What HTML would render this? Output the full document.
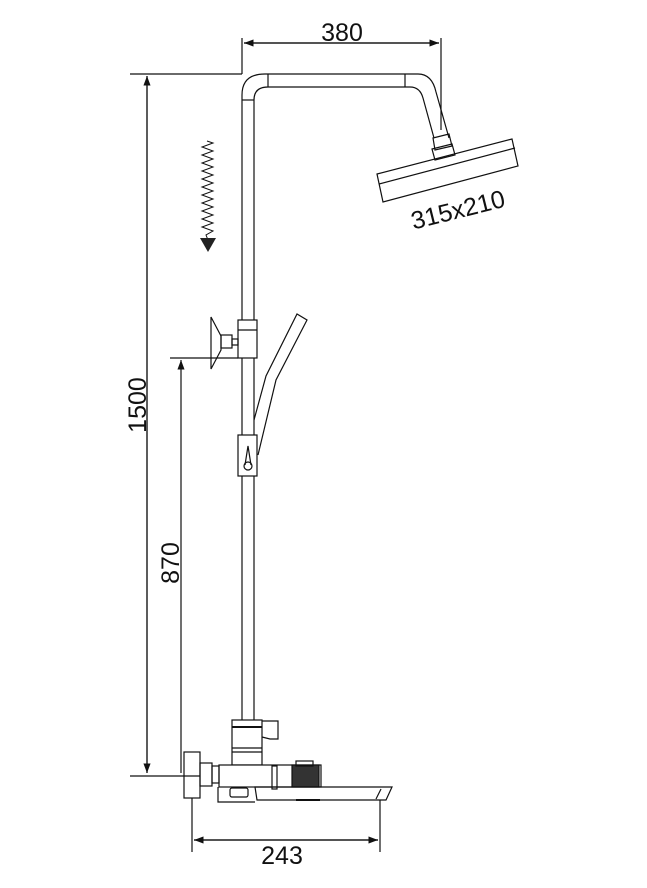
<!DOCTYPE html>
<html><head><style>body{margin:0;background:#fff}svg{display:block}text{font-family:"Liberation Sans",Arial,sans-serif;fill:#111}</style></head>
<body>
<svg width="647" height="888" viewBox="0 0 647 888" xmlns="http://www.w3.org/2000/svg">
<defs><marker id="a" markerWidth="8" markerHeight="6" refX="8" refY="3" orient="auto"><path d="M0,0L8,3L0,6z" fill="#111"/></marker></defs>
<g stroke="#111" stroke-width="1.2" fill="none">
<line x1="242" y1="38" x2="242" y2="74"/><line x1="441" y1="38" x2="441" y2="130"/>
<line x1="244" y1="43" x2="439" y2="43" marker-end="url(#a)"/><line x1="439" y1="43" x2="244" y2="43" marker-end="url(#a)"/>
<line x1="130" y1="74" x2="242" y2="74"/>
<line x1="147" y1="76" x2="147" y2="773" marker-end="url(#a)"/><line x1="147" y1="773" x2="147" y2="76" marker-end="url(#a)"/>
<line x1="130" y1="776" x2="200" y2="776"/>
<line x1="170" y1="358" x2="238" y2="358"/>
<line x1="181" y1="773" x2="181" y2="360" marker-end="url(#a)"/>
<line x1="192" y1="798" x2="192" y2="852"/><line x1="380" y1="800" x2="380" y2="852"/>
<line x1="194" y1="840" x2="378" y2="840" marker-end="url(#a)"/><line x1="378" y1="840" x2="194" y2="840" marker-end="url(#a)"/>
<path d="M242,720 L242,95 Q242,74 265,74 L418,74 Q432,74 436,92 L449,138"/>
<path d="M254,720 L254,100 Q254,87 268,87 L410,87 Q420,87 423,98 L434,138"/>
<line x1="242" y1="100" x2="254" y2="100"/><line x1="268" y1="74" x2="268" y2="87"/><line x1="405" y1="74" x2="405" y2="87"/>
<path d="M433,138 L449,134 L452,146 L435,150 Z"/>
<path d="M432,149 L452,144 L455,155 L435,160 Z"/>
<path d="M377,174 L512,139 L518,166 L383,202 Z"/>
<line x1="379" y1="184" x2="515" y2="148"/>
<polyline points="207,141 213,143 202,147 213,151 202,155 213,159 202,163 213,167 202,171 213,175 202,179 213,183 202,187 213,191 202,195 213,199 202,203 213,207 202,211 213,215 202,219 213,223 202,227 213,231 206,235 208,240" stroke-width="1"/>
<rect x="238" y="320" width="19" height="38" fill="#fff"/>
<line x1="238" y1="330" x2="257" y2="330"/>
<rect x="221" y="335" width="11" height="13"/><rect x="232" y="339" width="6" height="6"/>
<path d="M211,317 L221,336 L221,350 L211,369 Z"/>
<path d="M254,420 L266,376 L297,314 L307,320 L276,380 L258,455"/>
<rect x="238" y="435" width="19" height="41" fill="#fff"/>
<path d="M245,465 L248,446 L251,465"/><circle cx="248" cy="466" r="4"/>
<rect x="232" y="720" width="30" height="45" fill="#fff"/>
<line x1="232" y1="727" x2="262" y2="727" stroke-width="2"/><line x1="232" y1="748" x2="262" y2="748"/><line x1="232" y1="752" x2="262" y2="752"/>
<path d="M262,721 L278,721 L278,739 L270,739 L262,737"/>
<rect x="219" y="765" width="102" height="22" fill="#fff"/>
<rect x="272" y="766" width="5" height="23"/>
<rect x="292" y="765" width="27" height="22" fill="#333"/>
<rect x="296" y="761" width="17" height="5"/>
<rect x="184" y="752" width="16" height="46"/>
<rect x="200" y="763" width="12" height="23"/><rect x="212" y="766" width="7" height="17"/>
<path d="M218,787 L218,802 L255,802"/>
<rect x="230" y="788" width="18" height="9" rx="2"/>
<path d="M255,787 L392,787 L386,800 L257,800 Z"/>
<line x1="296" y1="800" x2="320" y2="800" stroke-width="2"/>
<line x1="381" y1="789" x2="376" y2="799"/>
</g>
<path d="M200,238 L216,238 L208,252 Z" fill="#222"/>
<text x="342" y="41" font-size="25" text-anchor="middle">380</text>
<text x="282" y="864" font-size="25" text-anchor="middle">243</text>
<text transform="translate(146,405) rotate(-90)" font-size="25" text-anchor="middle">1500</text>
<text transform="translate(179,563) rotate(-90)" font-size="25" text-anchor="middle">870</text>
<text transform="translate(460,218) rotate(-14)" font-size="25" text-anchor="middle">315x210</text>
</svg>
</body></html>
